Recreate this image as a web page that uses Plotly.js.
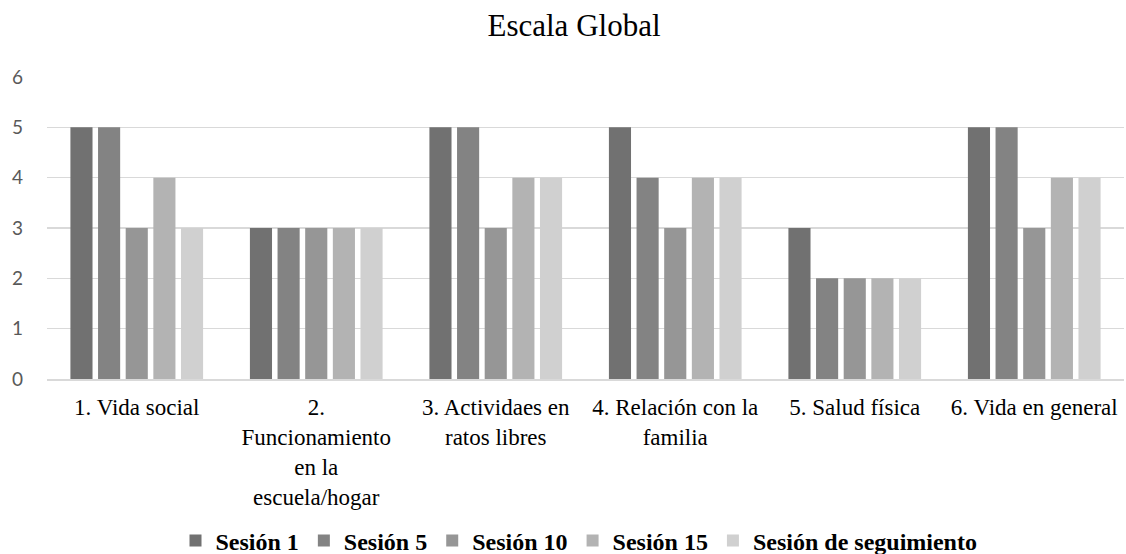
<!DOCTYPE html>
<html>
<head>
<meta charset="utf-8">
<script src="https://cdn.plot.ly/plotly-3.0.1.min.js"></script>
<style>html,body{margin:0;padding:0;background:#fff;}#chart{width:1126px;height:554px;}</style>
</head>
<body>
<div id="chart"></div>
<script>
var categories = [
  "1. Vida social",
  "2.<br>Funcionamiento<br>en la<br>escuela/hogar",
  "3. Actividaes en<br>ratos libres",
  "4. Relación con la<br>familia",
  "5. Salud física",
  "6. Vida en general"
];
var seriesNames = ["Sesión 1", "Sesión 5", "Sesión 10", "Sesión 15", "Sesión de seguimiento"];
var sesion1 = [5, 3, 5, 5, 3, 5];
var sesion5 = [5, 3, 5, 4, 2, 5];
var sesion10 = [3, 3, 3, 3, 2, 3];
var sesion15 = [4, 3, 4, 4, 2, 4];
var seguimiento = [3, 3, 4, 4, 2, 4];
var yTicks = [0, 1, 2, 3, 4, 5, 6];

var colors = ["#717171", "#838383", "#969696", "#b3b3b3", "#d0d0d0"];
var allSeries = [sesion1, sesion5, sesion10, sesion15, seguimiento];
var serif = "'Liberation Serif', 'Times New Roman', Times, serif";

var traces = allSeries.map(function (vals, i) {
  return {
    type: "bar",
    x: categories,
    y: vals,
    name: "<b>" + seriesNames[i] + "</b>",
    marker: { color: colors[i] },
    hoverinfo: "y"
  };
});

var layout = {
  width: 1126,
  height: 554,
  margin: { l: 47, r: 2, t: 77, b: 175 },
  paper_bgcolor: "#fff",
  plot_bgcolor: "#fff",
  barmode: "group",
  bargap: 0.23,
  bargroupgap: 0.2,
  font: { family: serif },
  title: {
    text: "Escala Global",
    font: { family: serif, size: 31, color: "#000" },
    xref: "container", x: 574 / 1126, xanchor: "center",
    y: 1 - 25 / 554, yanchor: "middle", yref: "container"
  },
  xaxis: {
    type: "category",
    showgrid: false,
    showline: true,
    linecolor: "#d9d9d9",
    linewidth: 1.5,
    ticks: "",
    tickangle: 0,
    ticklabelstandoff: 7,
    tickfont: { family: serif, size: 23, color: "#000" },
    fixedrange: true
  },
  yaxis: {
    range: [0, 6],
    tickvals: yTicks,
    showgrid: true,
    gridcolor: "#d9d9d9",
    gridwidth: 1.5,
    zeroline: false,
    showline: false,
    ticks: "",
    ticklabelstandoff: 23,
    tickfont: { family: "Lato, Carlito, sans-serif", size: 19, color: "#595959" },
    fixedrange: true
  },
  showlegend: true,
  legend: {
    orientation: "h",
    xref: "container", x: 579 / 1126, xanchor: "center",
    y: 13 / 554, yanchor: "middle", yref: "container",
    font: { family: serif, size: 24, color: "#000" },
    itemwidth: 30,
    traceorder: "normal"
  }
};

Plotly.newPlot("chart", traces, layout, { displayModeBar: false, staticPlot: true });
</script>
</body>
</html>
